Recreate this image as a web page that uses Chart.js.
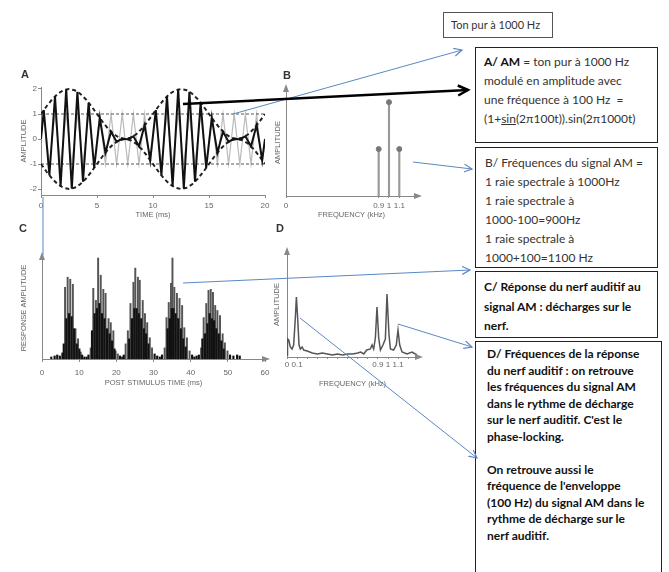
<!DOCTYPE html>
<html>
<head>
<meta charset="utf-8">
<script src="https://cdn.jsdelivr.net/npm/chart.js@4"></script>
<style>
  body { margin: 0; background: #fff; }
  #page { position: relative; width: 669px; height: 572px; overflow: hidden; background: #fff; }
  canvas { position: absolute; }
  .letter { position: absolute; font: bold 11px "Liberation Sans", sans-serif; color: #333; }
  .box {
    position: absolute; box-sizing: border-box; border: 1.5px solid #222; background: #fff;
    font-family: Lato, "Open Sans", sans-serif; font-size: 12px; color: #333; white-space: nowrap;
  }
  .bold { font-weight: bold; color: #111; }
  svg { position: absolute; left: 0; top: 0; }
</style>
</head>
<body>
<div id="page">
  <canvas id="chartA" width="275" height="155" style="left:0;top:70px"></canvas>
  <canvas id="chartB" width="160" height="155" style="left:270px;top:70px"></canvas>
  <canvas id="chartC" width="280" height="150" style="left:0;top:240px"></canvas>
  <canvas id="chartD" width="160" height="155" style="left:270px;top:235px"></canvas>

  <div class="letter" style="left:21px;top:68px">A</div>
  <div class="letter" style="left:283px;top:69px">B</div>
  <div class="letter" style="left:19px;top:222px">C</div>
  <div class="letter" style="left:276px;top:222px">D</div>

  <div class="box" style="left:443px;top:12px;width:110px;height:26px;border:1px solid #555;font-size:11px;line-height:23px;padding-left:7px">Ton pur à 1000 Hz</div>

  <div class="box" style="left:475px;top:47px;width:183px;height:96px;line-height:19px;padding:4px 0 0 8px">
    <b style="color:#111">A/ AM</b> = ton pur à 1000 Hz<br>
    modulé en amplitude avec<br>
    une fréquence à 100 Hz &nbsp;=<br>
    (1+<u>sin</u>(2π100t)).sin(2π1000t)
  </div>

  <div class="box" style="left:475px;top:147px;width:183px;height:121px;line-height:19px;padding:5px 0 0 9px">
    B/ Fréquences du signal AM =<br>
    1 raie spectrale à 1000Hz<br>
    1 raie spectrale à<br>
    1000-100=900Hz<br>
    1 raie spectrale à<br>
    1000+100=1100 Hz
  </div>

  <div class="box bold" style="left:475px;top:271px;width:183px;height:67px;line-height:19.5px;padding:5px 0 0 8px">
    C/ Réponse du nerf auditif au<br>
    signal AM : décharges sur le<br>
    nerf.
  </div>

  <div class="box bold" style="left:475px;top:341px;width:187px;height:240px;line-height:16.5px;padding:4px 0 0 11px">
    D/ Fréquences de la réponse<br>
    du nerf auditif : on retrouve<br>
    les fréquences du signal AM<br>
    dans le rythme de décharge<br>
    sur le nerf auditif. C'est le<br>
    phase-locking.<br>
    <br>
    On retrouve aussi le<br>
    fréquence de l'enveloppe<br>
    (100 Hz) du signal AM dans le<br>
    rythme de décharge sur le<br>
    nerf auditif.
  </div>

  <svg width="669" height="572">
    <defs>
      <marker id="blueHead" markerUnits="userSpaceOnUse" markerWidth="10" markerHeight="10" refX="8" refY="4" orient="auto">
        <path d="M0,0 L8,4 L0,8" fill="none" stroke="#5b87c5" stroke-width="1.2"/>
      </marker>
      <marker id="blackHead" markerUnits="userSpaceOnUse" markerWidth="14" markerHeight="14" refX="11" refY="6" orient="auto">
        <path d="M1,1 L11,6 L1,11" fill="none" stroke="#000" stroke-width="2.5"/>
      </marker>
    </defs>
    <g stroke="#5b87c5" stroke-width="1" fill="none">
      <line x1="233" y1="114" x2="462" y2="50" marker-end="url(#blueHead)"/>
      <line x1="413" y1="162" x2="472" y2="169" marker-end="url(#blueHead)"/>
      <line x1="183" y1="283" x2="470" y2="270" marker-end="url(#blueHead)"/>
      <line x1="398" y1="324" x2="472" y2="347" marker-end="url(#blueHead)"/>
      <line x1="300" y1="318" x2="477" y2="458" marker-end="url(#blueHead)"/>
      <line x1="43" y1="197" x2="43" y2="255"/>
    </g>
    <line x1="183" y1="104" x2="468" y2="90" stroke="#000" stroke-width="2.5" marker-end="url(#blackHead)"/>
  </svg>
</div>

<script>
// Panel A: AM signal, pure tone and envelope (time in ms)
const timeA = [0, 0.25, 0.75, 1.25, 1.75, 2.25, 2.75, 3.25, 3.75, 4.25, 4.75, 5.25, 5.75, 6.25, 6.75, 7.25, 7.75, 8.25, 8.75, 9.25, 9.75,
  10.25, 10.75, 11.25, 11.75, 12.25, 12.75, 13.25, 13.75, 14.25, 14.75, 15.25, 15.75, 16.25, 16.75, 17.25, 17.75, 18.25, 18.75, 19.25, 19.75, 20];
const amSignal = [0, 1.16, -1.45, 1.71, -1.89, 1.99, -1.99, 1.89, -1.71, 1.45, -1.16, 0.84, -0.55, 0.29, -0.11, 0.01, -0.01, 0.11, -0.29, 0.55, -0.84,
  1.16, -1.45, 1.71, -1.89, 1.99, -1.99, 1.89, -1.71, 1.45, -1.16, 0.84, -0.55, 0.29, -0.11, 0.01, -0.01, 0.11, -0.29, 0.55, -0.84, 0];
const pureTone = [0, 1, -1, 1, -1, 1, -1, 1, -1, 1, -1, 1, -1, 1, -1, 1, -1, 1, -1, 1, -1,
  1, -1, 1, -1, 1, -1, 1, -1, 1, -1, 1, -1, 1, -1, 1, -1, 1, -1, 1, -1, 0];
const envTime = [0, 0.5, 1, 1.5, 2, 2.5, 3, 3.5, 4, 4.5, 5, 5.5, 6, 6.5, 7, 7.5, 8, 8.5, 9, 9.5, 10,
  10.5, 11, 11.5, 12, 12.5, 13, 13.5, 14, 14.5, 15, 15.5, 16, 16.5, 17, 17.5, 18, 18.5, 19, 19.5, 20];
const envUpper = [1, 1.31, 1.59, 1.81, 1.95, 2, 1.95, 1.81, 1.59, 1.31, 1, 0.69, 0.41, 0.19, 0.05, 0, 0.05, 0.19, 0.41, 0.69, 1,
  1.31, 1.59, 1.81, 1.95, 2, 1.95, 1.81, 1.59, 1.31, 1, 0.69, 0.41, 0.19, 0.05, 0, 0.05, 0.19, 0.41, 0.69, 1];
const envLower = [-1, -1.31, -1.59, -1.81, -1.95, -2, -1.95, -1.81, -1.59, -1.31, -1, -0.69, -0.41, -0.19, -0.05, 0, -0.05, -0.19, -0.41, -0.69, -1,
  -1.31, -1.59, -1.81, -1.95, -2, -1.95, -1.81, -1.59, -1.31, -1, -0.69, -0.41, -0.19, -0.05, 0, -0.05, -0.19, -0.41, -0.69, -1];
const levelTime = [0, 20];
const levelUpper = [1, 1];
const levelLower = [-1, -1];
const ticksAx = [0, 5, 10, 15, 20];
const ticksAy = [-2, -1, 0, 1, 2];

// Panel B: spectrum of AM signal (kHz)
const freqB = [0.9, 1, 1.1];
const ampB = [0.5, 1, 0.5];
const ticksB = [0, 0.9, 1, 1.1];

// Panel C: post stimulus time histogram (ms)
const peakTimes = [6.2, 6.9, 7.6, 8.3, 9.0, 9.7, 10.4,
  13.1, 13.8, 14.5, 15.1, 15.8, 16.5, 17.1, 17.9, 18.5, 19.2, 19.8, 20.4,
  22.5, 23.1, 23.8, 24.6, 25.1, 25.8, 26.3, 27.1, 27.7, 28.3, 29.0, 29.6,
  33.0, 33.5, 34.1, 34.7, 35.1, 35.6, 36.3, 37.0, 37.7, 38.3, 39.0, 39.7,
  42.8, 43.5, 44.2, 44.8, 45.4, 46.0, 46.6, 47.2, 47.9, 48.6, 49.2, 49.9];
const peakHeights = [71, 81, 79, 74, 30, 20, 7,
  11, 70, 58, 100, 83, 69, 65, 40, 36, 28, 8, 5,
  15, 28, 55, 76, 90, 81, 78, 58, 45, 36, 21, 11,
  11, 41, 56, 75, 100, 71, 65, 60, 53, 31, 21, 8,
  11, 41, 55, 68, 69, 66, 53, 48, 43, 25, 16, 8];
const fillTimes = [2.5, 3.4, 4.1, 4.8, 5.5, 5.85,
  6.55, 7.25, 7.95, 8.65, 9.35, 10.05, 10.8, 11.4, 12.0, 12.5,
  13.45, 14.15, 14.8, 15.45, 16.15, 16.8, 17.5, 18.2, 18.85, 19.5, 21.0, 21.6,
  22.0, 23.45, 24.2, 24.85, 25.45, 26.05, 26.7, 27.4, 28.0, 28.65, 30.3, 31.0, 31.7, 32.3,
  33.8, 34.4, 34.9, 35.35, 35.95, 36.65, 37.35, 38.0, 38.65, 40.4, 41.0, 41.6, 42.2,
  43.15, 43.85, 44.5, 45.1, 45.7, 46.3, 46.9, 47.55, 48.25, 48.9, 50.6, 51.5, 52.5, 53.2];
const fillHeights = [2, 3, 4, 3, 6, 15,
  40, 45, 42, 30, 15, 10, 4, 2, 2, 4,
  28, 45, 50, 55, 45, 40, 30, 25, 18, 10, 3, 2,
  4, 20, 40, 50, 50, 45, 40, 30, 25, 15, 5, 3, 2, 4,
  30, 40, 50, 50, 45, 40, 30, 20, 12, 4, 2, 3, 4,
  20, 25, 35, 45, 40, 38, 30, 25, 18, 10, 4, 3, 4, 3];
const ticksC = [0, 10, 20, 30, 40, 50, 60];

// Panel D: spectrum of nerve response (kHz)
const freqD = [0, 0.005, 0.017, 0.033, 0.05, 0.066, 0.083, 0.093, 0.106, 0.119, 0.132, 0.15, 0.165, 0.2, 0.25,
  0.3, 0.35, 0.4, 0.45, 0.5, 0.55, 0.6, 0.65, 0.7, 0.73, 0.76, 0.79, 0.825, 0.842, 0.858,
  0.875, 0.891, 0.908, 0.925, 0.95, 0.974, 0.99, 1.01, 1.024, 1.056, 1.082, 1.099, 1.116, 1.139, 1.188, 1.238, 1.287];
const ampD = [2, 18, 17, 10, 8, 12, 40, 60, 38, 12, 8, 10, 7, 6, 4,
  3, 4, 3, 2, 3, 2, 3, 3, 4, 5, 3, 7, 8, 12, 8,
  19, 50, 19, 7, 12, 18, 63, 22, 8, 7, 12, 27, 12, 5, 3, 5, 2];
const ticksD = [0, 0.1, 0.2, 0.3, 0.4, 0.5, 0.6, 0.7, 0.8, 0.9, 1, 1.1, 1.2];
const labelsD = [0, 0.1, 0.9, 1, 1.1];

Chart.defaults.font.family = "'Liberation Sans', sans-serif";
Chart.defaults.font.size = 8;
Chart.defaults.color = "#666";

const pts = (xs, ys) => xs.map((x, i) => ({ x: x, y: ys[i] }));
const setTicks = (list) => (scale) => { scale.ticks = list.map((v) => ({ value: v })); };
const axisGray = "#888";

// arrow heads at the ends of the axes
const axisArrows = {
  id: "axisArrows",
  afterDraw(chart) {
    const { ctx, chartArea: a } = chart;
    ctx.save();
    ctx.fillStyle = axisGray;
    ctx.beginPath();
    ctx.moveTo(a.left, a.top - 5);
    ctx.lineTo(a.left - 3, a.top + 3);
    ctx.lineTo(a.left + 3, a.top + 3);
    ctx.fill();
    ctx.beginPath();
    ctx.moveTo(a.right + 5, a.bottom);
    ctx.lineTo(a.right - 3, a.bottom - 3);
    ctx.lineTo(a.right - 3, a.bottom + 3);
    ctx.fill();
    ctx.restore();
  },
};

function baseOptions(padding) {
  return {
    responsive: false,
    animation: false,
    layout: { padding: padding },
    plugins: { legend: { display: false }, tooltip: { enabled: false } },
  };
}

function xAxis(min, max, ticks, title, height, tickLen, tickPad, titlePad, callback) {
  return {
    type: "linear", min: min, max: max, offset: false,
    afterBuildTicks: setTicks(ticks),
    afterFit: (s) => { s.height = height; },
    grid: { drawOnChartArea: false, drawTicks: true, tickLength: tickLen, color: axisGray, offset: false },
    border: { display: true, color: axisGray },
    ticks: { autoSkip: false, maxRotation: 0, padding: tickPad, font: { size: 8 }, callback: callback || ((v) => String(v)) },
    title: { display: true, text: title, font: { size: 7.5 }, padding: { top: 0, bottom: titlePad } },
  };
}

function yAxis(min, max, width, title, titlePad) {
  return {
    min: min, max: max,
    afterFit: (s) => { s.width = width; },
    grid: { display: false },
    border: { display: true, color: axisGray },
    ticks: { display: false },
    title: { display: true, text: title, font: { size: 7.5 }, padding: { top: titlePad, bottom: 0 } },
  };
}

// Panel A
const optsA = baseOptions({ top: 17, right: 10, left: 0, bottom: 0 });
optsA.scales = {
  x: xAxis(0, 20, ticksAx, "TIME (ms)", 30, 3, 2.5, 5.5),
  y: {
    min: -2.24, max: 2.08,
    afterBuildTicks: setTicks(ticksAy),
    afterFit: (s) => { s.width = 41; },
    grid: { drawOnChartArea: false, drawTicks: true, tickLength: 3, color: axisGray },
    border: { display: true, color: axisGray },
    ticks: { padding: 1, font: { size: 8 } },
    title: { display: true, text: "AMPLITUDE", font: { size: 7.5 }, padding: { top: 19.5, bottom: 0 } },
  },
};
new Chart(document.getElementById("chartA"), {
  type: "line",
  data: {
    datasets: [
      { data: pts(timeA, amSignal), borderColor: "#111", borderWidth: 2, pointRadius: 0 },
      { data: pts(envTime, envUpper), borderColor: "#222", borderWidth: 2, borderDash: [4, 3], pointRadius: 0 },
      { data: pts(envTime, envLower), borderColor: "#222", borderWidth: 2, borderDash: [4, 3], pointRadius: 0 },
      { data: pts(levelTime, levelUpper), borderColor: "#555", borderWidth: 1, borderDash: [3, 2], pointRadius: 0 },
      { data: pts(levelTime, levelLower), borderColor: "#555", borderWidth: 1, borderDash: [3, 2], pointRadius: 0 },
      { data: pts(timeA, pureTone), borderColor: "#bbb", borderWidth: 1.2, pointRadius: 0 },
    ],
  },
  options: optsA,
});

// Panel B
const optsB = baseOptions({ top: 19, right: 13, left: 0, bottom: 0 });
optsB.scales = {
  x: xAxis(0, 1.272, ticksB, "FREQUENCY (kHz)", 29, 2, 2.5, 5.5),
  y: yAxis(0, 1.14, 16, "AMPLITUDE", 3.5),
};
new Chart(document.getElementById("chartB"), {
  type: "bar",
  data: {
    datasets: [
      { type: "scatter", data: pts(freqB, ampB), pointRadius: 2.5, pointBackgroundColor: "#777", pointBorderColor: "#777" },
      { data: pts(freqB, ampB), backgroundColor: "#999", barThickness: 1.5, grouped: false },
    ],
  },
  options: optsB,
  plugins: [axisArrows],
});

// Panel C
const optsC = baseOptions({ top: 17, right: 15, left: 0, bottom: 0 });
optsC.scales = {
  x: xAxis(0, 60, ticksC, "POST STIMULUS TIME (ms)", 31, 3, 5.5, 2.5),
  y: yAxis(0, 101, 42, "RESPONSE AMPLITUDE", 19.5),
};
new Chart(document.getElementById("chartC"), {
  type: "bar",
  data: {
    datasets: [
      { data: pts(fillTimes, fillHeights), backgroundColor: "#111", barThickness: 1.5, grouped: false },
      { data: pts(peakTimes, peakHeights), backgroundColor: "#555", barThickness: 1.3, grouped: false },
    ],
  },
  options: optsC,
  plugins: [axisArrows],
});

// Panel D
const optsD = baseOptions({ top: 17, right: 12, left: 0, bottom: 0 });
optsD.scales = {
  x: xAxis(0, 1.297, ticksD, "FREQUENCY (kHz)", 33, 2, 0.5, 1.5,
    (v) => (labelsD.includes(v) ? String(v) : "")),
  y: yAxis(0, 105, 17, "AMPLITUDE", 2.5),
};
new Chart(document.getElementById("chartD"), {
  type: "line",
  data: {
    datasets: [
      { data: pts(freqD, ampD), borderColor: "#555", borderWidth: 1.5, pointRadius: 0 },
    ],
  },
  options: optsD,
  plugins: [axisArrows],
});
</script>
</body>
</html>
